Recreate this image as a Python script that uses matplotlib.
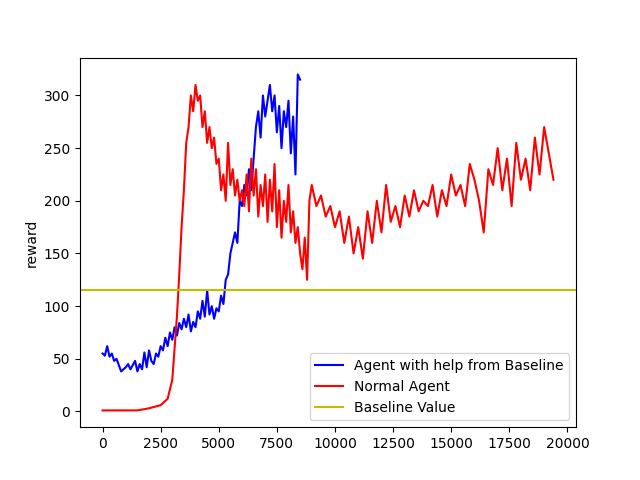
import matplotlib
matplotlib.use("Agg")
import matplotlib.pyplot as plt

blue_x = [0,100,200,300,400,500,600,700,800,900,1000,1100,1200,1300,1400,1500,1600,1700,1800,1900,2000,2100,2200,2300,2400,2500,2600,2700,2800,2900,3000,3100,3200,3300,3400,3500,3600,3700,3800,3900,4000,4100,4200,4300,4400,4500,4600,4700,4800,4900,5000,5100,5200,5300,5400,5500,5600,5700,5800,5900,6000,6100,6200,6300,6400,6500,6600,6700,6800,6900,7000,7100,7200,7300,7400,7500,7600,7700,7800,7900,8000,8100,8200,8300,8400,8500]
blue_y = [55,53,62,52,55,48,50,44,38,40,42,45,40,44,48,38,45,40,56,42,58,48,45,55,52,62,58,70,62,75,68,80,72,84,78,88,80,92,76,85,80,95,88,105,90,115,92,100,88,98,95,110,102,125,130,150,160,170,160,200,195,215,205,230,210,240,270,285,260,300,280,295,310,285,300,265,290,250,285,270,295,245,280,225,320,315]

red_x = [0,500,1000,1500,2000,2500,2800,3000,3100,3200,3300,3400,3500,3600,3700,3800,3900,4000,4100,4200,4300,4400,4500,4600,4700,4800,4900,5000,5100,5200,5300,5400,5500,5600,5700,5800,5900,6000,6100,6200,6300,6400,6500,6600,6700,6800,6900,7000,7100,7200,7300,7400,7500,7600,7700,7800,7900,8000,8100,8200,8300,8400,8500,8600,8700,8800,8900,9000,9200,9400,9600,9800,10000,10200,10400,10600,10800,11000,11200,11400,11600,11800,12000,12200,12400,12600,12800,13000,13200,13400,13600,13800,14000,14200,14400,14600,14800,15000,15200,15400,15600,15800,16000,16200,16400,16600,16800,17000,17200,17400,17600,17800,18000,18200,18400,18600,18800,19000,19200,19400]
red_y = [1,1,1,1,3,6,12,30,60,90,130,175,210,255,270,300,285,310,295,300,270,285,255,270,250,260,235,240,210,225,200,255,215,230,205,220,200,210,195,225,190,240,205,230,185,215,195,225,180,220,190,235,175,210,165,200,180,215,170,190,160,175,150,135,165,125,200,215,195,205,185,195,175,190,160,185,150,175,145,190,160,200,170,215,180,195,175,205,185,210,190,200,195,215,185,210,195,225,205,215,195,235,220,200,170,230,215,250,210,240,195,255,220,240,210,260,225,270,245,220]

baseline = 115

fig, ax = plt.subplots(figsize=(6.4, 4.8), dpi=100)
ax.plot(blue_x, blue_y, color='b', label='Agent with help from Baseline')
ax.plot(red_x, red_y, color='r', label='Normal Agent')
ax.axhline(baseline, color='y', label='Baseline Value')
ax.set_ylabel('reward')
ax.legend(loc='lower right')
fig.savefig('out.png')
